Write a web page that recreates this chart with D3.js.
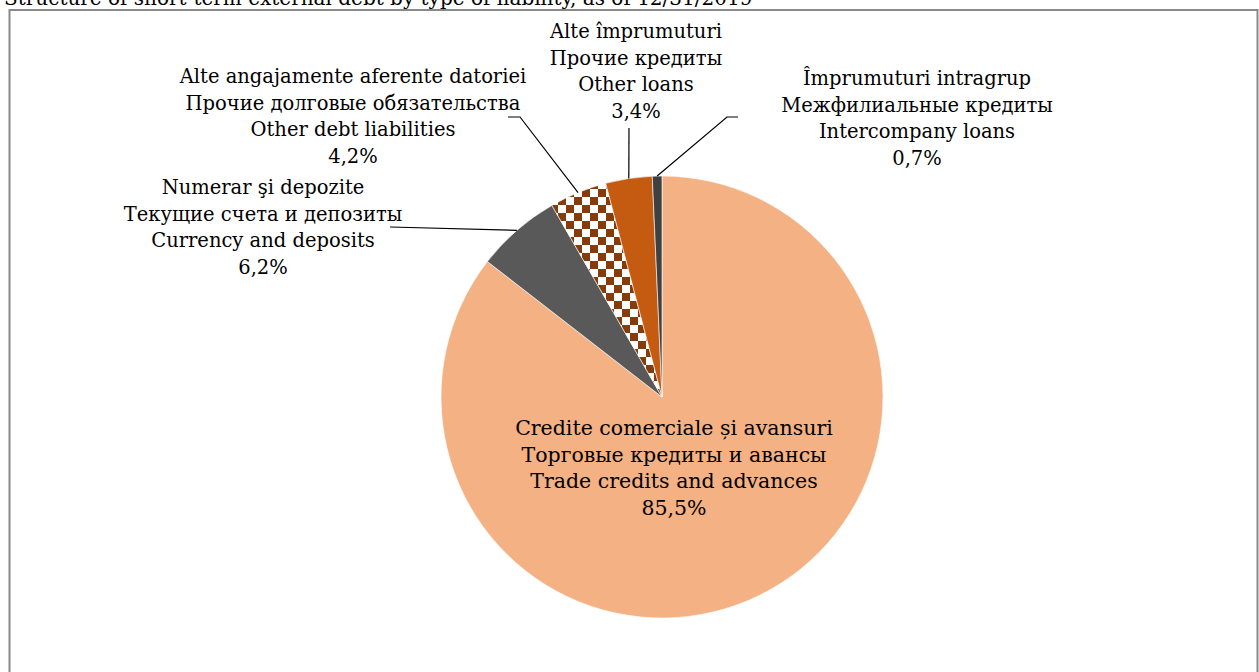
<!DOCTYPE html>
<html>
<head>
<meta charset="utf-8">
<script src="https://cdn.jsdelivr.net/npm/d3@7"></script>
<style>
  body { margin: 0; background: #fff; }
  text { font-family: "DejaVu Serif", serif; fill: #000; }
</style>
</head>
<body>
<div id="chart"></div>
<script>
// data
var categories = [
    ["Credite comerciale și avansuri", "Торговые кредиты и авансы", "Trade credits and advances"],
    ["Numerar şi depozite", "Текущие счета и депозиты", "Currency and deposits"],
    ["Alte angajamente aferente datoriei", "Прочие долговые обязательства", "Other debt liabilities"],
    ["Alte împrumuturi", "Прочие кредиты", "Other loans"],
    ["Împrumuturi intragrup", "Межфилиальные кредиты", "Intercompany loans"]
];
var values = [85.5, 6.2, 4.2, 3.4, 0.7];
var valueLabels = ["85,5%", "6,2%", "4,2%", "3,4%", "0,7%"];
var colors = ["#F4B183", "#595959", "url(#checker)", "#C55A11", "#404040"];
var title = "Structure of short-term external debt by type of liability, as of 12/31/2019";

var W = 1259, H = 672;
var cx = 662, cy = 397, radius = 221;
var lineH = 26.5;

// label layout: centre x, first line y, leader start
var labelLayout = [
    { x: 674, y: 435, size: 20.5, leader: null },
    { x: 263, y: 194, size: 19.5, leader: [[390, 227]] },
    { x: 353, y: 83, size: 19.5, leader: [[508, 117], [520, 117]] },
    { x: 636, y: 38, size: 19.5, leader: [[629, 128]] },
    { x: 917, y: 85, size: 19.5, leader: [[738, 117], [727, 117]] }
];

var svg = d3.select("#chart")
    .append("svg")
    .attr("width", W)
    .attr("height", H);

var defs = svg.append("defs");
var pat = defs.append("pattern")
    .attr("id", "checker")
    .attr("patternUnits", "userSpaceOnUse")
    .attr("width", 16)
    .attr("height", 16);
pat.append("rect").attr("width", 16).attr("height", 16).attr("fill", "#fff");
pat.append("rect").attr("width", 8).attr("height", 8).attr("fill", "#843C0C");
pat.append("rect").attr("x", 8).attr("y", 8).attr("width", 8).attr("height", 8).attr("fill", "#843C0C");

// title (cut off at the top, as in the source)
svg.append("text")
    .attr("x", 4)
    .attr("y", 5)
    .style("font-size", "20px")
    .text(title);

// frame
svg.append("rect")
    .attr("x", 9.5)
    .attr("y", 10)
    .attr("width", 1248)
    .attr("height", 700)
    .attr("fill", "none")
    .attr("stroke", "#898989")
    .attr("stroke-width", 2);

var pie = d3.pie().sort(null).value(function (d) { return d; });
var arcs = pie(values);
var arc = d3.arc().innerRadius(0).outerRadius(radius);

var g = svg.append("g")
    .attr("transform", "translate(" + cx + "," + cy + ")");

g.selectAll("path")
    .data(arcs)
    .enter()
    .append("path")
    .attr("d", arc)
    .attr("fill", function (d, i) { return colors[i]; })
    .attr("stroke", "#fff")
    .attr("stroke-width", 0.6);

// leader lines end at the outer edge, mid angle
arcs.forEach(function (d, i) {
    var lay = labelLayout[i];
    if (!lay.leader) return;
    var mid = (d.startAngle + d.endAngle) / 2;
    var end = [cx + radius * Math.sin(mid), cy - radius * Math.cos(mid)];
    var pts = lay.leader.concat([end]);
    svg.append("path")
        .attr("d", d3.line()(pts))
        .attr("fill", "none")
        .attr("stroke", "#000")
        .attr("stroke-width", 1.2);
});

// labels
labelLayout.forEach(function (lay, i) {
    var lines = categories[i].concat([valueLabels[i]]);
    var t = svg.append("text")
        .attr("text-anchor", "middle")
        .style("font-size", lay.size + "px");
    lines.forEach(function (s, j) {
        t.append("tspan")
            .attr("x", lay.x)
            .attr("y", lay.y + j * lineH)
            .text(s);
    });
});
</script>
</body>
</html>
